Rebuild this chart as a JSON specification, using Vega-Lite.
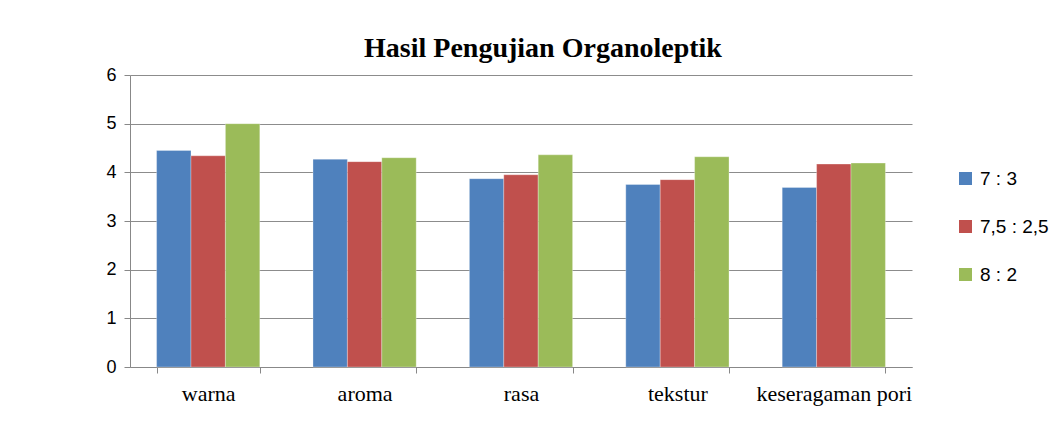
{
  "$schema": "https://vega.github.io/schema/vega-lite/v6.json",
  "autosize": "none",
  "width": 782,
  "height": 292,
  "padding": {"left": 130, "top": 75, "right": 148, "bottom": 61},
  "background": "white",
  "title": {
    "text": "Hasil Pengujian Organoleptik",
    "font": "Liberation Serif",
    "fontSize": 28,
    "fontWeight": "bold",
    "color": "black",
    "anchor": "middle",
    "dx": 22,
    "offset": 3
  },
  "config": {"view": {"stroke": null}},
  "data": {
    "values": [
      {"kategori": "warna", "perbandingan": "7 : 3", "nilai": 4.45},
      {"kategori": "warna", "perbandingan": "7,5 : 2,5", "nilai": 4.34},
      {"kategori": "warna", "perbandingan": "8 : 2", "nilai": 5.0},
      {"kategori": "aroma", "perbandingan": "7 : 3", "nilai": 4.27},
      {"kategori": "aroma", "perbandingan": "7,5 : 2,5", "nilai": 4.22},
      {"kategori": "aroma", "perbandingan": "8 : 2", "nilai": 4.3},
      {"kategori": "rasa", "perbandingan": "7 : 3", "nilai": 3.87},
      {"kategori": "rasa", "perbandingan": "7,5 : 2,5", "nilai": 3.95},
      {"kategori": "rasa", "perbandingan": "8 : 2", "nilai": 4.36},
      {"kategori": "tekstur", "perbandingan": "7 : 3", "nilai": 3.75},
      {"kategori": "tekstur", "perbandingan": "7,5 : 2,5", "nilai": 3.85},
      {"kategori": "tekstur", "perbandingan": "8 : 2", "nilai": 4.32},
      {"kategori": "keseragaman pori", "perbandingan": "7 : 3", "nilai": 3.69},
      {"kategori": "keseragaman pori", "perbandingan": "7,5 : 2,5", "nilai": 4.17},
      {"kategori": "keseragaman pori", "perbandingan": "8 : 2", "nilai": 4.19}
    ]
  },
  "mark": {"type": "bar", "stroke": "white", "strokeWidth": 0.5, "strokeOpacity": 0.6},
  "encoding": {
    "x": {
      "field": "kategori",
      "type": "nominal",
      "sort": ["warna", "aroma", "rasa", "tekstur", "keseragaman pori"],
      "scale": {"paddingInner": 0.34, "paddingOuter": 0.17},
      "axis": {
        "title": null,
        "labelAngle": 0,
        "labelFont": "Liberation Serif",
        "labelFontSize": 22,
        "labelColor": "black",
        "labelPadding": 10,
        "tickBand": "extent",
        "tickColor": "#888888",
        "tickSize": 6,
        "domainColor": "#888888",
        "grid": false
      }
    },
    "xOffset": {
      "field": "perbandingan",
      "type": "nominal",
      "sort": ["7 : 3", "7,5 : 2,5", "8 : 2"],
      "scale": {"paddingInner": 0, "paddingOuter": 0}
    },
    "y": {
      "field": "nilai",
      "type": "quantitative",
      "scale": {"domain": [0, 6], "nice": false},
      "axis": {
        "title": null,
        "values": [0, 1, 2, 3, 4, 5, 6],
        "labelFont": "Liberation Sans",
        "labelFontSize": 18,
        "labelColor": "black",
        "labelPadding": 8,
        "tickColor": "#888888",
        "tickSize": 6,
        "domainColor": "#888888",
        "gridColor": "#8c8c8c",
        "gridWidth": 1
      }
    },
    "color": {
      "field": "perbandingan",
      "type": "nominal",
      "sort": ["7 : 3", "7,5 : 2,5", "8 : 2"],
      "scale": {"range": ["#4F81BD", "#C0504D", "#9BBB59"]},
      "legend": {
        "title": null,
        "orient": "none",
        "legendX": 826,
        "legendY": 94,
        "symbolType": "square",
        "symbolSize": 170,
        "symbolStrokeWidth": 0,
        "symbolOpacity": 1,
        "labelFont": "Liberation Sans",
        "labelFontSize": 19,
        "labelColor": "black",
        "rowPadding": 28,
        "labelOffset": 5
      }
    }
  }
}
